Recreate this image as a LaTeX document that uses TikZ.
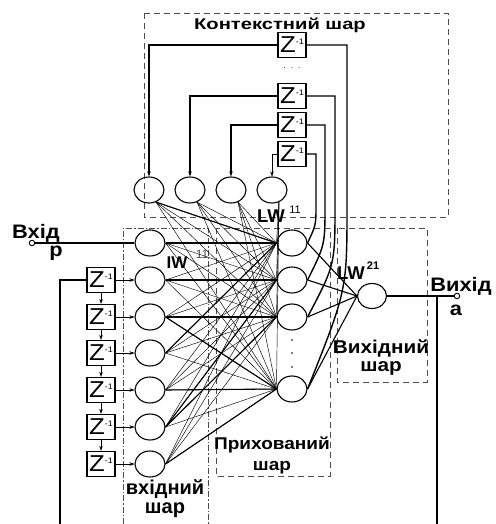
\documentclass[tikz,border=0pt]{standalone}
\usepackage{fontspec}
\setmainfont{Liberation Sans}
\newfontfamily\widefont[FakeStretch=1.12]{Liberation Sans}
\newfontfamily\titlefont[FakeStretch=1.3]{Liberation Sans}
\usetikzlibrary{shapes.geometric,arrows.meta}

\tikzset{
	neuron/.style={draw,ellipse,line width=1.1pt,minimum width=30pt,minimum height=26pt,inner sep=0pt},
	delay/.style={draw,line width=1.4pt,minimum width=28pt,minimum height=25pt,inner sep=0pt,font=\widefont\fontsize{23}{23}\selectfont},
	layerbox/.style={draw=black!70,line width=0.8pt,dash pattern=on 6pt off 4pt},
	inbox/.style={draw=black!70,line width=0.8pt,dash pattern=on 6pt off 2pt on 1.5pt off 2pt},
	lbl/.style={font=\widefont\bfseries\fontsize{18}{18}\selectfont,anchor=base,inner sep=0pt},
	supscr/.style={font=\widefont\fontsize{10}{10}\selectfont,anchor=base,inner sep=0pt},
	port/.style={draw,circle,line width=0.9pt,minimum size=5.5pt,inner sep=0pt,fill=white},
	wire/.style={line width=1.4pt},
	link/.style={line width=0.45pt},
	fat/.style={line width=1.1pt}
}
\newcommand{\zdelay}{Z\raisebox{8pt}{\fontsize{8}{8}\selectfont-1}}

\begin{document}
\begin{tikzpicture}[x=1pt,y=-1pt,>={Stealth[length=5pt,width=3.5pt]}]
	\useasboundingbox (0,0) rectangle (495,524);
	\draw[layerbox] (144,13) rectangle (448,217);
	\draw[inbox] (123,524) -- (123,228) -- (208,228) -- (208,524);
	\draw[layerbox] (216,228) rectangle (330,476);
	\draw[layerbox] (337,228) rectangle (427,382);

	\node[lbl,font=\titlefont\bfseries\fontsize{15.5}{16}\selectfont] (ctxtitle) at (280,30) {Контекстний шар};
	\node[delay] (cz1) at (292,45) {\zdelay};
	\node[font=\fontsize{8}{8}\selectfont] (cdots) at (292,68) {.\hspace{5pt}.\hspace{5pt}.};
	\node[delay] (cz2) at (292,96) {\zdelay};
	\node[delay] (cz3) at (292,125) {\zdelay};
	\node[delay] (cz4) at (292,154) {\zdelay};

	\foreach \n/\x in {1/149,2/190,3/231,4/272}
		\node[neuron] (c\n) at (\x,190) {};
	\foreach \n/\y in {1/243,2/280,3/317,4/353,5/390,6/427,7/464}
		\node[neuron] (i\n) at (150,\y) {};
	\foreach \n/\y in {1/280,2/317,3/353,4/390,5/427,6/464}
		\node[delay] (d\n) at (101,\y) {\zdelay};
	\foreach \n/\y in {1/243,2/280,3/317,4/389}
		\node[neuron] (h\n) at (292,\y) {};
	\node[neuron,minimum width=29pt,minimum height=25pt] (out) at (372,296) {};
	\foreach \y in {340,353,367}
		\fill (292,\y) circle (0.8pt);

	\node[port] (inport) at (32,243) {};
	\node[port] (outport) at (457,296) {};
	\coordinate (tap) at (437,296);
	\coordinate (tapend) at (437,524);
	\coordinate (fbend) at (60,524);

	\node[lbl,font=\widefont\bfseries\fontsize{19.5}{20}\selectfont] (inlbl) at (36,238) {Вхід};
	\node[lbl,font=\widefont\bfseries\fontsize{19.5}{20}\selectfont] (plbl) at (56,256) {p};
	\node[lbl,font=\widefont\bfseries\fontsize{19.5}{20}\selectfont] (outlbl) at (461,291) {Вихід};
	\node[lbl,font=\widefont\bfseries\fontsize{19.5}{20}\selectfont] (albl) at (456,315) {a};
	\node[lbl,font=\bfseries\fontsize{17}{17}\selectfont] (iw) at (177,268) {IW};
	\node[supscr,text=black!70,font=\fontsize{12}{12}\selectfont] (iwsup) at (202,258) {11};
	\node[lbl,font=\bfseries\fontsize{18.5}{19}\selectfont] (lwa) at (271,222) {LW};
	\node[supscr,font=\fontsize{11}{11}\selectfont] (lwasup) at (295,213) {11};
	\node[lbl,font=\bfseries\fontsize{18.5}{19}\selectfont] (lwb) at (351,279) {LW};
	\node[supscr,font=\bfseries\fontsize{11}{11}\selectfont] (lwbsup) at (373,269) {21};
	\node[lbl,font=\bfseries\fontsize{20}{20}\selectfont] (inname) at (165,494) {вхідний};
	\node[lbl,font=\bfseries\fontsize{20}{20}\selectfont] (innameb) at (165,513) {шар};
	\node[lbl,font=\widefont\bfseries\fontsize{17}{17}\selectfont] (hidname) at (272,449) {Прихований};
	\node[lbl,font=\widefont\bfseries\fontsize{17}{17}\selectfont] (hidnameb) at (272,470) {шар};
	\node[lbl,font=\widefont\bfseries\fontsize{18.5}{19}\selectfont] (outname) at (381,353) {Вихідний};
	\node[lbl,font=\widefont\bfseries\fontsize{18.5}{19}\selectfont] (outnameb) at (381,371) {шар};

	\draw[wire,->] (cz1.west) -| (c1.north);
	\draw[wire,->] (cz2.west) -| (c2.north);
	\draw[wire,->] (cz3.west) -| (c3.north);
	\draw[link,->] (cz4.west) -| (c4.north);
	\draw[wire] (h1.east) .. controls (316,225) .. (316,205) |- (cz4.east);
	\draw[wire] (h2.east) .. controls (325,245) .. (325,205) |- (cz3.east);
	\draw[wire] (h3.east) .. controls (335,265) .. (335,205) |- (cz2.east);
	\draw[wire] (h4.east) .. controls (347,290) .. (347,205) |- (cz1.east);

	\foreach \a in {1,...,7}
		\foreach \b in {1,...,4}
			\draw[link] (i\a.east) to (h\b.west);
	\foreach \a in {1,...,4}
		\foreach \b in {1,...,4}
			\draw[link] (c\a.-60) to (h\b.west);
	\foreach \a/\b in {1/1,2/2,3/3,3/4,5/4,6/2,6/3,7/4,4/1}
		\draw[fat] (i\a.east) to (h\b.west);
	\draw[fat] (c1.-60) to (h1.west);
	\foreach \b in {1,...,4}
		\draw[fat] (h\b.east) to (out.west);

	\foreach \n [count=\m from 2] in {1,...,6}
		\draw[link,->] (d\n.east) to (i\m.west);
	\foreach \n [count=\m from 2] in {1,...,5}
		\draw[link,->] (d\n.south) to (d\m.north);
	\draw[wire] (fbend) |- (d1.west);
	\draw[wire] (inport.east) to (i1.west);
	\draw[wire] (out.east) to (outport.west);
	\draw[wire] (tap) to (tapend);
\end{tikzpicture}
\end{document}
